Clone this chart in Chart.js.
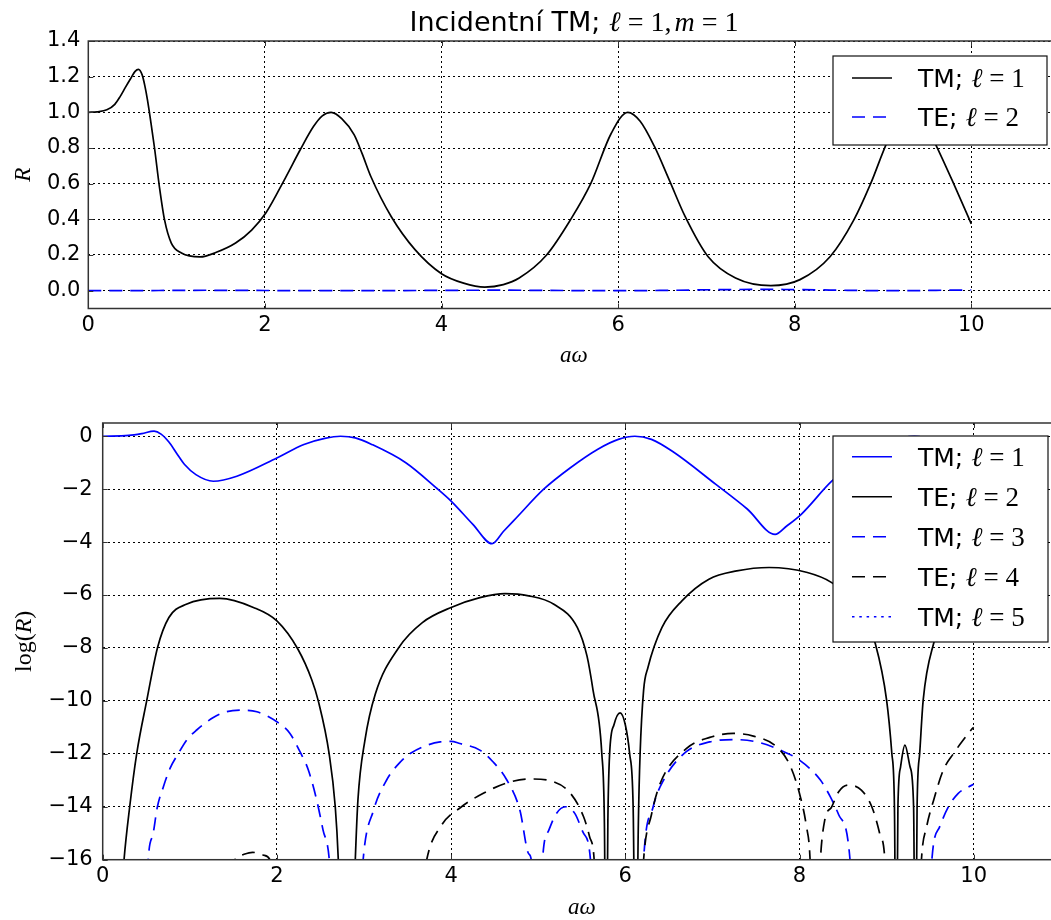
<!DOCTYPE html>
<html>
<head>
<meta charset="utf-8">
<title>Incidentní TM</title>
<script src="https://cdn.jsdelivr.net/npm/chart.js@4.4.0/dist/chart.umd.min.js"></script>
<style>
  html, body { margin: 0; padding: 0; background: #fff; overflow: hidden; }
  body { width: 1051px; height: 920px; position: relative; }
  canvas { position: absolute; left: 0; }
  #top { top: 0; }
  #bottom { top: 380px; }
</style>
</head>
<body>
<canvas id="top" width="1070" height="372"></canvas>
<canvas id="bottom" width="1070" height="540"></canvas>
<script>
// tick values
const xTicks = [0, 2, 4, 6, 8, 10];
const rTicks = [0, 0.2, 0.4, 0.6, 0.8, 1.0, 1.2, 1.4];
const logTicks = [0, -2, -4, -6, -8, -10, -12, -14, -16];

// upper panel: reflectance R against a*omega
const tm1X = [0, 0.1, 0.21, 0.3, 0.36, 0.42, 0.48, 0.53, 0.568, 0.61,
  0.64, 0.67, 0.71, 0.75, 0.805, 0.863, 0.94, 1.055, 1.266, 1.45,
  1.668, 1.85, 2.01, 2.24, 2.40, 2.55, 2.65, 2.75, 2.87, 3.01, 3.1,
  3.20, 3.43, 3.70, 4.0, 4.25, 4.49, 4.7, 4.88, 5.19, 5.46,
  5.69, 5.92, 6.11, 6.25, 6.41, 6.58, 6.76, 7.02, 7.33, 7.73, 8.06,
  8.40, 8.67, 8.86, 9.05, 9.18, 9.32, 9.45, 9.59, 9.8, 10.0];
const tm1R = [1.0, 1.003, 1.014, 1.045, 1.088, 1.14, 1.19, 1.23, 1.241, 1.21,
  1.15, 1.07, 0.94, 0.80, 0.584, 0.398, 0.267, 0.211, 0.189, 0.215,
  0.267, 0.34, 0.435, 0.64, 0.79, 0.92, 0.98, 1.0, 0.965, 0.875, 0.77,
  0.64, 0.416, 0.23, 0.095, 0.042, 0.02, 0.034, 0.071, 0.20, 0.397,
  0.60, 0.88, 1.0, 0.95, 0.81, 0.62, 0.415, 0.19, 0.071, 0.028, 0.062,
  0.19, 0.397, 0.60, 0.836, 0.95, 1.0, 0.96, 0.826, 0.60, 0.375];
const te2X = [0, 0.4, 0.8, 1.35, 2.0, 2.5, 2.8, 3.3, 4.0, 4.6, 5.2, 5.6, 5.8,
  5.95, 6.12, 6.6, 7.2, 7.65, 8.1, 8.6, 9.0, 9.2, 9.33, 9.6, 10.0];
const te2R = [0, 0, 0.001, 0.0022, 0.0009, 0.0001, 0, 0.0002, 0.0016, 0.0026, 0.0017, 0.0002, 0,
  0, 0, 0.002, 0.006, 0.0069, 0.0058, 0.002, 0, 0, 0, 0.002, 0.0037];

// lower panel: log(R)
const logTm1X = [0, 0.3, 0.45, 0.59, 0.67, 0.76, 0.85, 0.94, 1.07, 1.27,
  1.54, 2.0, 2.31, 2.55, 2.73, 2.9, 3.09, 3.48, 3.83, 4.0,
  4.25, 4.47, 4.6, 4.75, 5.06, 5.37, 5.68, 5.92, 6.11, 6.3,
  6.54, 7.04, 7.4, 7.72, 7.85, 8.02, 8.37, 8.67, 8.86, 9.05,
  9.32, 9.59, 9.8, 10.0];
const logTm1 = [0, 0.03, 0.1, 0.19, 0.08, -0.22, -0.65, -1.07, -1.45, -1.70,
  -1.51, -0.82, -0.31, -0.08, 0, -0.06, -0.31, -1.0, -1.95, -2.45,
  -3.33, -4.06, -3.6, -3.08, -2.01, -1.19, -0.50, -0.12, 0, -0.12,
  -0.57, -1.82, -2.75, -3.71, -3.4, -2.95, -1.70, -0.92, -0.51, -0.18,
  0, -0.19, -0.51, -0.98];

const logTe2X = [0.16, 0.245, 0.31, 0.39, 0.505, 0.63, 0.76, 0.96, 1.345, 1.73,
  2.0, 2.24, 2.40, 2.475, 2.60, 2.67, 2.705, 2.80, 2.90, 2.93,
  3.01, 3.13, 3.40, 3.67, 4.0, 4.33, 4.62, 4.89, 5.18, 5.45,
  5.56, 5.63, 5.73, 5.76, 5.78, 5.80, 5.82, 5.87, 5.94, 6.0,
  6.05, 6.09, 6.12, 6.15, 6.17, 6.21, 6.26, 6.42, 6.65, 6.96,
  7.28, 7.65, 8.09, 8.37, 8.6, 8.75, 8.87, 9.0, 9.06, 9.09,
  9.11, 9.13, 9.16, 9.21, 9.27, 9.31, 9.33, 9.35, 9.38, 9.42,
  9.54, 9.7, 9.85, 10.0];
const logTe2 = [-20, -16, -14, -12, -10, -7.98, -6.85, -6.35, -6.13, -6.47,
  -6.98, -8.04, -9.2, -10, -12, -14, -16, -26, -16, -13.76,
  -11.5, -9.74, -7.98, -7.04, -6.47, -6.10, -5.95, -6.03, -6.35, -7.23,
  -8.3, -9.6, -11.98, -14.6, -22, -14.5, -12.0, -10.9, -10.45, -10.9,
  -12.0, -14.0, -22, -14.6, -12.0, -9.6, -8.74, -7.23, -6.22, -5.40,
  -5.09, -4.96, -5.15, -5.53, -6.2, -6.9, -7.83, -9.97, -11.98, -14.0,
  -22, -14.0, -12.5, -11.67, -12.5, -14.0, -22, -14.0, -11.98, -9.97,
  -7.83, -6.6, -6.0, -5.6];

const logTm3X = [0.45, 0.524, 0.58, 0.627, 0.696, 0.773, 0.868, 0.964, 1.079, 1.27,
  1.42, 1.596, 1.77, 2.0, 2.15, 2.265, 2.36, 2.457, 2.53, 2.60,
  2.75, 2.85, 2.99, 3.11, 3.26, 3.42, 3.55, 3.875, 4.0, 4.10,
  4.33, 4.48, 4.64, 4.79, 4.89, 4.92, 4.98, 5.0, 5.05, 5.12,
  5.2, 5.31, 5.42, 5.52, 5.60, 5.66, 6.14, 6.21, 6.32, 6.44,
  6.70, 6.97, 7.24, 7.51, 7.78, 8.0, 8.24, 8.35, 8.45, 8.58,
  8.65, 9.45, 9.52, 9.61, 9.71, 9.82, 9.94, 10.0];
const logTm3 = [-22, -15.95, -15.0, -14.02, -13.25, -12.55, -11.99, -11.48, -11.1, -10.63,
  -10.41, -10.35, -10.41, -10.79, -11.23, -11.92, -12.6, -13.75, -14.88, -15.95,
  -24, -24, -16, -14.13, -12.99, -12.3, -11.95, -11.55, -11.53, -11.61,
  -11.86, -12.3, -12.99, -14.13, -15.77, -16, -22, -22, -16, -14.9,
  -14.3, -14.0, -14.25, -15.0, -16, -22, -22, -16, -14.0, -12.99,
  -11.92, -11.55, -11.46, -11.55, -11.86, -12.24, -12.99, -13.6, -14.3, -16,
  -22, -22, -16, -14.75, -14.0, -13.5, -13.25, -13.15];

const logTe4X = [1.4, 1.52, 1.6, 1.72, 1.84, 1.92, 2.05, 3.55, 3.72, 3.89,
  4.12, 4.37, 4.64, 4.91, 5.17, 5.37, 5.52, 5.59, 5.64, 5.70,
  6.15, 6.21, 6.30, 6.40, 6.70, 6.97, 7.24, 7.47, 7.74, 7.89,
  8.0, 8.08, 8.12, 8.16, 8.19, 8.24, 8.29, 8.37, 8.45, 8.56,
  8.71, 8.83, 8.92, 8.98, 9.03, 9.35, 9.40, 9.46, 9.54, 9.65,
  9.77, 9.88, 9.97, 10.0];
const logTe4 = [-18, -16, -15.82, -15.72, -15.82, -16, -18, -20, -16, -14.7,
  -14.0, -13.49, -13.1, -12.95, -13.05, -13.49, -14.37, -15.13, -15.9, -20,
  -20, -16, -14.3, -13.12, -11.8, -11.38, -11.23, -11.33, -11.74, -12.43,
  -13.5, -14.75, -15.9, -20, -20, -16, -14.5, -14.0, -13.43, -13.18,
  -13.37, -14.0, -15.0, -16, -20, -20, -16, -14.75, -13.75, -12.62,
  -11.98, -11.48, -11.1, -11.0];

// l = 5 stays below the plotted range everywhere
const logTm5X = [];
const logTm5 = [];

const topModes = ['TM', 'TE'];
const topEll = [1, 2];
const bottomModes = ['TM', 'TE', 'TM', 'TE', 'TM'];
const bottomEll = [1, 2, 3, 4, 5];

// ---- helpers ----
const SANS = '"DejaVu Sans", sans-serif';
const SERIF = '"Liberation Serif", "DejaVu Serif", serif';
Chart.defaults.font.family = SANS;
Chart.defaults.color = '#000';

const pts = (xs, ys) => xs.map((x, i) => ({ x: x, y: ys[i] }));

// "name = value" in math style
function mathEq(name, value, size) {
  return [
    { t: name, font: 'italic ' + size + 'px ' + SERIF },
    { t: '=', font: size + 'px ' + SERIF, padL: 0.25 * size, padR: 0.25 * size },
    { t: String(value), font: size + 'px ' + SERIF }
  ];
}

function runWidth(ctx, pieces) {
  let w = 0;
  pieces.forEach(p => {
    ctx.font = p.font;
    w += (p.padL || 0) + ctx.measureText(p.t).width + (p.padR || 0);
  });
  return w;
}

function drawRun(ctx, pieces, x, y) {
  ctx.textBaseline = 'alphabetic';
  ctx.textAlign = 'left';
  pieces.forEach(p => {
    ctx.font = p.font;
    x += p.padL || 0;
    ctx.fillText(p.t, x, y);
    x += ctx.measureText(p.t).width + (p.padR || 0);
  });
}

// axes box with inward ticks, drawn above the curves
const framePlugin = {
  id: 'frame',
  afterDatasetsDraw(chart) {
    const { ctx, chartArea: a, scales } = chart;
    ctx.save();
    ctx.strokeStyle = '#333';
    ctx.lineWidth = 1.5;
    ctx.strokeRect(a.left, a.top, a.right - a.left, a.bottom - a.top);
    ctx.lineWidth = 1;
    ctx.beginPath();
    scales.x.ticks.forEach(t => {
      const px = Math.round(scales.x.getPixelForValue(t.value)) + 0.5;
      ctx.moveTo(px, a.bottom); ctx.lineTo(px, a.bottom - 5);
      ctx.moveTo(px, a.top); ctx.lineTo(px, a.top + 5);
    });
    scales.y.ticks.forEach(t => {
      const py = Math.round(scales.y.getPixelForValue(t.value)) + 0.5;
      ctx.moveTo(a.left, py); ctx.lineTo(a.left + 5, py);
      ctx.moveTo(a.right, py); ctx.lineTo(a.right - 5, py);
    });
    ctx.stroke();
    ctx.restore();
  }
};

function makeLegend(box) {
  return {
    id: 'mathLegend',
    afterDraw(chart) {
      const ctx = chart.ctx;
      ctx.save();
      ctx.fillStyle = '#fff';
      ctx.fillRect(box.x, box.y, box.w, box.h);
      ctx.strokeStyle = '#111';
      ctx.lineWidth = 1.2;
      ctx.strokeRect(box.x, box.y, box.w, box.h);
      chart.data.datasets.forEach((ds, i) => {
        const cy = box.y + box.first + i * box.gap;
        ctx.beginPath();
        ctx.setLineDash(ds.borderDash || []);
        ctx.strokeStyle = ds.borderColor;
        ctx.lineWidth = 1.5;
        ctx.moveTo(box.x + 19, cy);
        ctx.lineTo(box.x + 59, cy);
        ctx.stroke();
        ctx.setLineDash([]);
        ctx.fillStyle = '#000';
        const pieces = [{ t: ds.mode + '; ', font: '25px ' + SANS }].concat(mathEq('\u2113', ds.ell, 27));
        drawRun(ctx, pieces, box.x + 85, cy + 9);
      });
      ctx.restore();
    }
  };
}

function makeLabels(cfg) {
  return {
    id: 'axisText',
    afterDraw(chart) {
      const { ctx, chartArea: a } = chart;
      const cx = (a.left + a.right) / 2;
      ctx.save();
      ctx.fillStyle = '#000';
      if (cfg.title) {
        drawRun(ctx, cfg.title, cx - runWidth(ctx, cfg.title) / 2, cfg.titleY);
      }
      drawRun(ctx, cfg.xLabel, cx - runWidth(ctx, cfg.xLabel) / 2, a.bottom + cfg.xLabelDy);
      ctx.translate(cfg.yLabelX, (a.top + a.bottom) / 2);
      ctx.rotate(-Math.PI / 2);
      drawRun(ctx, cfg.yLabel, -runWidth(ctx, cfg.yLabel) / 2, 0);
      ctx.restore();
    }
  };
}

function series(label, mode, ell, xs, ys, color, dash, i) {
  return {
    label: label, mode: mode, ell: ell,
    data: pts(xs, ys),
    borderColor: color,
    borderWidth: 1.7,
    borderDash: dash,
    pointRadius: 0,
    fill: false,
    cubicInterpolationMode: 'monotone',
    order: -i
  };
}

function axisOpts(min, max, ticks, fmt, size, pad) {
  return {
    type: 'linear',
    min: min,
    max: max,
    afterBuildTicks: s => { s.ticks = ticks.map(v => ({ value: v })); },
    afterFit: s => { if (s.isHorizontal()) s.height = size; else s.width = size; },
    grid: { color: '#000', lineWidth: 1, drawTicks: false },
    border: { display: false, dash: [2, 3] },
    ticks: {
      color: '#000',
      font: { family: SANS, size: 21 },
      padding: pad,
      autoSkip: false,
      maxRotation: 0,
      callback: fmt
    }
  };
}

const DASHED = [13, 8];
const DOTTED = [2.5, 4.8];
const minus = v => (v < 0 ? '\u2212' + Math.abs(v) : String(v));

// ---- upper panel ----
new Chart(document.getElementById('top'), {
  type: 'line',
  data: {
    datasets: [
      series('TM; \u2113=1', topModes[0], topEll[0], tm1X, tm1R, '#000000', [], 0),
      series('TE; \u2113=2', topModes[1], topEll[1], te2X, te2R, '#0000ff', DASHED, 1)
    ]
  },
  options: {
    responsive: false,
    animation: false,
    layout: { padding: { top: 41, right: 10.4, bottom: 0, left: 0 } },
    plugins: { legend: { display: false }, tooltip: { enabled: false } },
    scales: {
      x: axisOpts(0, 11, xTicks, v => String(v), 63.5, 4),
      y: axisOpts(-0.1, 1.4, rTicks, v => v.toFixed(1), 88.3, 8)
    }
  },
  plugins: [
    framePlugin,
    makeLegend({ x: 833, y: 56, w: 214, h: 89, first: 22, gap: 39 }),
    makeLabels({
      title: [{ t: 'Incidentní TM; ', font: '27px ' + SANS }]
        .concat(mathEq('\u2113', 1, 28))
        .concat([{ t: ',', font: '28px ' + SERIF, padR: 3 }])
        .concat(mathEq('m', 1, 28)),
      titleY: 31,
      xLabel: [{ t: 'a\u03c9', font: 'italic 23px ' + SERIF }],
      xLabelDy: 53,
      yLabel: [{ t: 'R', font: 'italic 23px ' + SERIF }],
      yLabelX: 30
    })
  ]
});

// ---- lower panel ----
new Chart(document.getElementById('bottom'), {
  type: 'line',
  data: {
    datasets: [
      series('TM; \u2113=1', bottomModes[0], bottomEll[0], logTm1X, logTm1, '#0000ff', [], 0),
      series('TE; \u2113=2', bottomModes[1], bottomEll[1], logTe2X, logTe2, '#000000', [], 1),
      series('TM; \u2113=3', bottomModes[2], bottomEll[2], logTm3X, logTm3, '#0000ff', DASHED, 2),
      series('TE; \u2113=4', bottomModes[3], bottomEll[3], logTe4X, logTe4, '#000000', DASHED, 3),
      series('TM; \u2113=5', bottomModes[4], bottomEll[4], logTm5X, logTm5, '#0000ff', DOTTED, 4)
    ]
  },
  options: {
    responsive: false,
    animation: false,
    layout: { padding: { top: 43, right: 9.2, bottom: 0, left: 0 } },
    plugins: { legend: { display: false }, tooltip: { enabled: false } },
    scales: {
      x: axisOpts(0, 11, xTicks, v => String(v), 60.3, 4),
      y: axisOpts(-16, 0.5, logTicks, minus, 102.7, 10)
    }
  },
  plugins: [
    framePlugin,
    makeLegend({ x: 833, y: 56, w: 215, h: 206, first: 20.7, gap: 40 }),
    makeLabels({
      xLabel: [{ t: 'a\u03c9', font: 'italic 23px ' + SERIF }],
      xLabelDy: 54,
      yLabel: [
        { t: 'log(', font: '24px ' + SERIF },
        { t: 'R', font: 'italic 24px ' + SERIF },
        { t: ')', font: '24px ' + SERIF }
      ],
      yLabelX: 31
    })
  ]
});
</script>
</body>
</html>
